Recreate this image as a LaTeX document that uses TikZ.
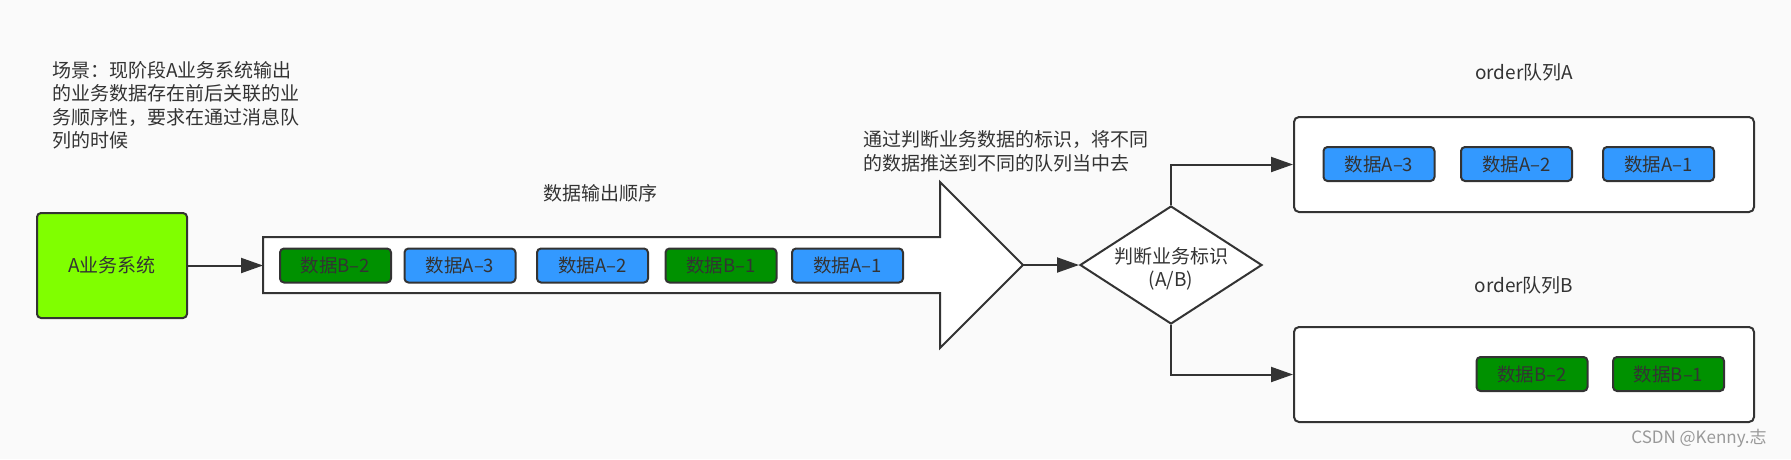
\documentclass[tikz,border=0pt]{standalone}
\usepackage{fontspec}
\setmainfont{Noto Sans CJK SC}
\usepackage{tikz}
\definecolor{bg}{RGB}{250, 250, 250}
\definecolor{ink}{RGB}{51, 51, 51}
\definecolor{lime}{RGB}{128, 255, 0}
\definecolor{blu}{RGB}{51, 153, 255}
\definecolor{grn}{RGB}{0, 145, 0}
\usetikzlibrary{shapes.geometric}
\usetikzlibrary{arrows.meta}

\tikzset{
  txt/.style={inner sep=0pt, text=ink, font=\fontsize{19pt}{23.5pt}\selectfont},
  chipA/.style={rectangle, rounded corners=4pt, minimum width=111pt, minimum height=34pt, fill=blu, draw=ink, line width=2pt, text=ink, font=\fontsize{18.5pt}{20pt}\selectfont},
  chipB/.style={chipA, fill=grn},
  queue/.style={rectangle, rounded corners=5pt, minimum width=460pt, minimum height=95pt, fill=white, draw=ink, line width=2pt},
  link/.style={line width=2pt, color=ink, -{Triangle[length=22pt, width=15pt]}}
}

\begin{document}
\begin{tikzpicture}[x=1pt, y=1pt]
\fill [bg] (0pt, 0pt) rectangle (1791pt, -459pt);
\useasboundingbox (0pt, 0pt) rectangle (1791pt, -459pt);
\node (note) [txt, anchor=north west, align=left] at (52pt, -61pt) {场景：现阶段A业务系统输出\\的业务数据存在前后关联的业\\务顺序性，要求在通过消息队\\列的时候};
\node (sysA) [rectangle, rounded corners=4pt, minimum width=150pt, minimum height=105pt, fill=lime, draw=ink, line width=2pt, txt] at (112pt, -265.5pt) {A业务系统};
\draw [line width=2pt, color=ink, fill=white, line join=miter] (263pt, -237pt) -- (940pt, -237pt) -- (940pt, -182pt) -- (1023pt, -265pt) -- (940pt, -348pt) -- (940pt, -293pt) -- (263pt, -293pt) -- cycle;
\coordinate (flowin) at (263pt, -265.5pt);
\coordinate (flowtip) at (1023pt, -265pt);
\node (order) [txt] at (600pt, -193pt) {数据输出顺序};
\node (f1) [chipB] at (335.5pt, -265.5pt) {数据B–2};
\node (f2) [chipA] at (460pt, -265.5pt) {数据A–3};
\node (f3) [chipA] at (592.5pt, -265.5pt) {数据A–2};
\node (f4) [chipB] at (721pt, -265.5pt) {数据B–1};
\node (f5) [chipA] at (847.5pt, -265.5pt) {数据A–1};
\node (hint) [txt, anchor=west, align=left] at (863pt, -151.5pt) {通过判断业务数据的标识，将不同\\的数据推送到不同的队列当中去};
\node (judge) [diamond, minimum width=182pt, minimum height=118pt, inner sep=0pt, fill=white, draw=ink, line width=2pt, label={[txt, align=center, yshift=-4pt]center:判断业务标识\\(A/B)}] at (1171pt, -265pt) {};
\node (qA) [queue] at (1524pt, -164.5pt) {};
\node (qB) [queue] at (1524pt, -374.5pt) {};
\node (labA) [txt] at (1524pt, -72pt) {order队列A};
\node (labB) [txt] at (1524pt, -285pt) {order队列B};
\node (a3) [chipA] at (1379pt, -164pt) {数据A–3};
\node (a2) [chipA] at (1516.5pt, -164pt) {数据A–2};
\node (a1) [chipA] at (1658.5pt, -164pt) {数据A–1};
\node (b2) [chipB] at (1532pt, -374pt) {数据B–2};
\node (b1) [chipB] at (1668.5pt, -374pt) {数据B–1};
\node (mark) [txt, text=black!40, font=\fontsize{17pt}{20pt}\selectfont] at (1699pt, -438pt) {CSDN @Kenny.志};
\draw [link] (sysA) to (flowin);
\draw [link] (flowtip) to (judge.west);
\draw [link] (judge.north) |- (qA.west);
\draw [link] (judge.south) |- (qB.west);
\end{tikzpicture}
\end{document}
